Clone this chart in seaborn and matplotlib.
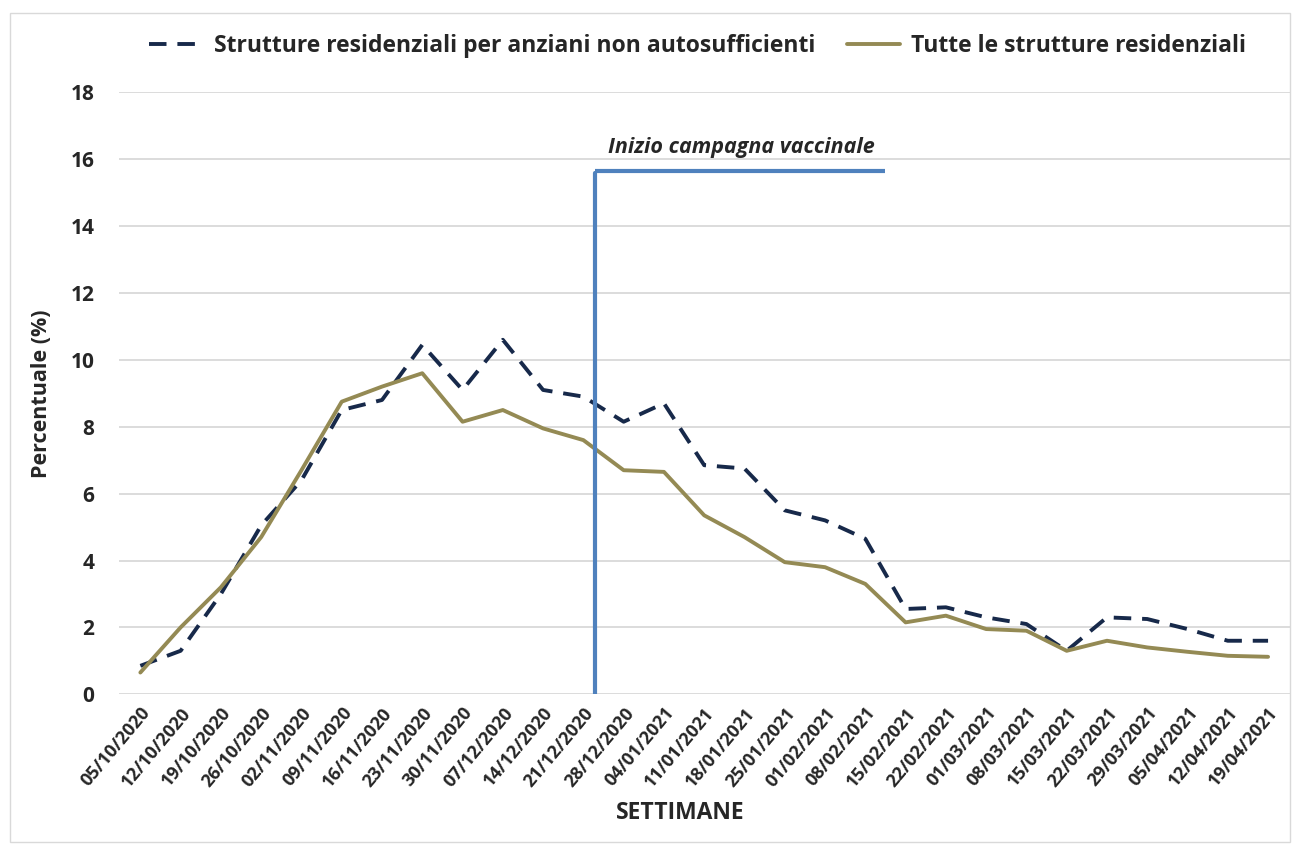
import pandas as pd
import matplotlib.pyplot as plt
import seaborn as sns

weeks = ['05/10/2020', '12/10/2020', '19/10/2020', '26/10/2020', '02/11/2020', '09/11/2020',
         '16/11/2020', '23/11/2020', '30/11/2020', '07/12/2020', '14/12/2020', '21/12/2020',
         '28/12/2020', '04/01/2021', '11/01/2021', '18/01/2021', '25/01/2021', '01/02/2021',
         '08/02/2021', '15/02/2021', '22/02/2021', '01/03/2021', '08/03/2021', '15/03/2021',
         '22/03/2021', '29/03/2021', '05/04/2021', '12/04/2021', '19/04/2021']

anziani = [0.85, 1.3, 3.0, 5.05, 6.4, 8.5, 8.8, 10.45, 9.1, 10.6, 9.1, 8.9,
           8.15, 8.7, 6.85, 6.75, 5.5, 5.2, 4.65, 2.55, 2.6, 2.3, 2.1, 1.3,
           2.3, 2.25, 1.95, 1.6, 1.6]
tutte = [0.65, 2.0, 3.2, 4.7, 6.7, 8.75, 9.2, 9.6, 8.15, 8.5, 7.95, 7.6,
         6.7, 6.65, 5.35, 4.7, 3.95, 3.8, 3.3, 2.15, 2.35, 1.95, 1.9, 1.3,
         1.6, 1.4, 1.27, 1.15, 1.12]

# inizio campagna vaccinale (posizione tra 21/12 e 28/12)
vacc_x = 11.3
vacc_top = 15.6
vacc_end = 18.5

lab_a = 'Strutture residenziali per anziani non autosufficienti'
lab_t = 'Tutte le strutture residenziali'

df = pd.DataFrame({'pos': range(len(weeks)), 'settimana': weeks,
                   lab_a: anziani, lab_t: tutte})
long_df = df.melt(id_vars=['pos', 'settimana'], var_name='serie', value_name='perc')

sns.set_style('white')
plt.rcParams['font.family'] = ['Open Sans', 'DejaVu Sans']

fig = plt.figure(figsize=(12.98, 8.55), dpi=100)
ax = fig.add_axes([0.092, 0.188, 0.902, 0.704])

palette = {lab_a: '#17294a', lab_t: '#948a54'}
sns.lineplot(data=long_df, x='pos', y='perc', hue='serie', style='serie',
             palette=palette, dashes={lab_a: (4.5, 2.8), lab_t: ''},
             linewidth=2.8, ax=ax)

ax.plot([vacc_x, vacc_x], [0, vacc_top], color='#4f81bd', lw=3)
ax.plot([vacc_x, vacc_end], [vacc_top + 0.05, vacc_top + 0.05], color='#4f81bd', lw=3,
        solid_capstyle='butt')
ax.text(14.93, 16.35, 'Inizio campagna vaccinale',
        ha='center', va='center', fontsize=15.5, fontstyle='italic', fontweight='bold')

ax.set_xlim(-0.52, 28.55)
ax.set_ylim(0, 18)
ax.set_yticks(range(0, 19, 2))
ax.set_xticks(df['pos'])
ax.set_xticklabels(weeks, rotation=50, ha='right', rotation_mode='anchor',
                   fontsize=13, fontweight='bold')
for t in ax.get_yticklabels():
    t.set_fontsize(15)
    t.set_fontweight('bold')
ax.tick_params(axis='both', length=0, pad=7)
ax.tick_params(axis='y', pad=18)
ax.grid(axis='y', color='#d9d9d9', lw=1.3)
ax.set_axisbelow(True)
for s in ax.spines.values():
    s.set_visible(False)

ax.set_xlabel('SETTIMANE', fontsize=16.5, fontweight='bold')
ax.xaxis.set_label_coords(0.479, -0.178)
ax.set_ylabel('Percentuale (%)', fontsize=15.5, fontweight='bold')
ax.yaxis.set_label_coords(-0.058, 0.5)

leg = ax.legend(loc='lower center', bbox_to_anchor=(0.494, 1.022), ncol=2, frameon=False,
                fontsize=16.5, handlelength=2.3, columnspacing=1.4, handletextpad=0.5)
for t in leg.get_texts():
    t.set_fontweight('bold')

fig.patches.append(plt.Rectangle((0.008, 0.015), 0.986, 0.97, transform=fig.transFigure,
                                 fill=False, edgecolor='#d9d9d9', lw=1))

fig.savefig('out.png', dpi=100)
